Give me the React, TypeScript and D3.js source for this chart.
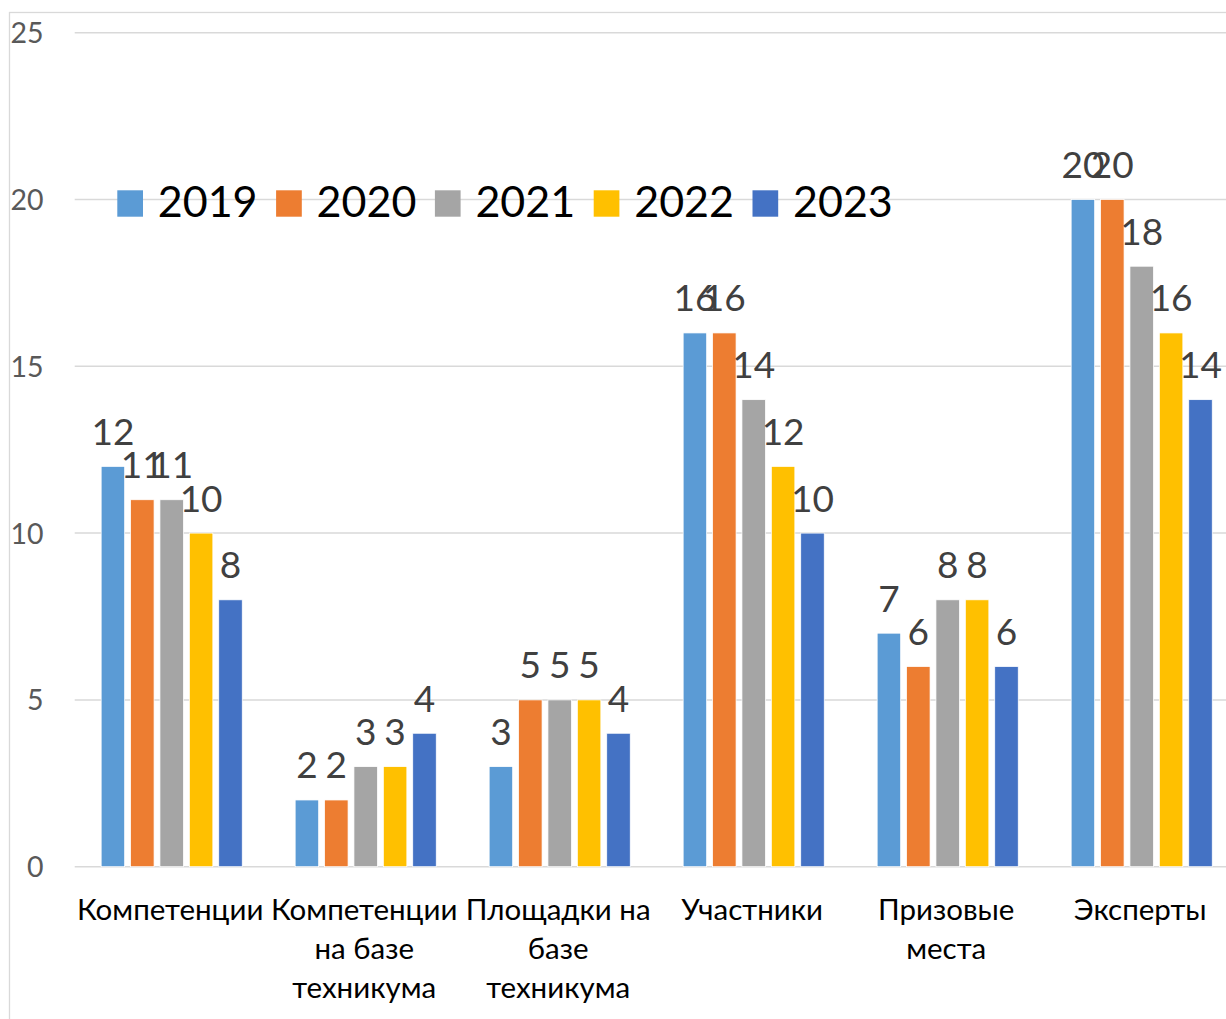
import React from "react";
import * as d3 from "d3";

const categories: string[][] = [
  ["Компетенции"],
  ["Компетенции", "на базе", "техникума"],
  ["Площадки на", "базе", "техникума"],
  ["Участники"],
  ["Призовые", "места"],
  ["Эксперты"],
];
const years = ["2019", "2020", "2021", "2022", "2023"];
const values2019 = [12, 2, 3, 16, 7, 20];
const values2020 = [11, 2, 5, 16, 6, 20];
const values2021 = [11, 3, 5, 14, 8, 18];
const values2022 = [10, 3, 5, 12, 8, 16];
const values2023 = [8, 4, 4, 10, 6, 14];
const series = [values2019, values2020, values2021, values2022, values2023];
const colors = ["#5B9BD5", "#ED7D31", "#A5A5A5", "#FFC000", "#4472C4"];
const yTicks = [0, 5, 10, 15, 20, 25];

const W = 1226;
const H = 1019;
const FONT = "Lato, Carlito, 'Open Sans', sans-serif";

export default function App() {
  const catIdx = categories.map((_, i) => String(i));
  const x0 = d3.scaleBand().domain(catIdx).range([74.7, 1238.7]).paddingInner(0).paddingOuter(0);
  const x1 = d3
    .scaleBand()
    .domain(years)
    .range([0, x0.bandwidth()])
    .paddingInner(0.2)
    .paddingOuter(0.9);
  const y = d3.scaleLinear().domain([0, 25]).range([866.7, 32.7]);

  return (
    <svg
      width={W}
      height={H}
      style={{ position: "absolute", left: 0, top: 0, background: "#fff" }}
      fontFamily={FONT}
    >
      <rect x={0} y={0} width={W} height={H} fill="#fff" />
      {/* chart border */}
      <rect x={9.5} y={12.5} width={W + 50} height={H + 50} fill="none" stroke="#D9D9D9" strokeWidth={1.3} />
      {/* gridlines */}
      {yTicks.map((t) => (
        <line key={"g" + t} x1={74.7} x2={W} y1={y(t)} y2={y(t)} stroke="#D9D9D9" strokeWidth={1.5} />
      ))}
      {/* y tick labels */}
      {yTicks.map((t) => (
        <text key={"t" + t} x={43.5} y={y(t) + 10.5} textAnchor="end" fontSize={28.5} fill="#595959">
          {t}
        </text>
      ))}
      {/* bars */}
      {series.map((vals, si) =>
        vals.map((v, ci) => {
          const bx = (x0(String(ci)) as number) + (x1(years[si]) as number);
          return (
            <rect
              key={`b${si}-${ci}`}
              x={bx}
              y={y(v)}
              width={x1.bandwidth()}
              height={y(0) - y(v)}
              fill={colors[si]}
              stroke="#fff"
              strokeWidth={0.75}
            />
          );
        })
      )}
      {/* data labels */}
      {series.map((vals, si) =>
        vals.map((v, ci) => {
          const bx = (x0(String(ci)) as number) + (x1(years[si]) as number) + x1.bandwidth() / 2;
          return (
            <text
              key={`l${si}-${ci}`}
              x={bx}
              y={y(v) - 21.5}
              textAnchor="middle"
              fontSize={37}
              fill="#404040"
            >
              {v}
            </text>
          );
        })
      )}
      {/* category labels */}
      {categories.map((lines, ci) => {
        const cx = (x0(String(ci)) as number) + x0.bandwidth() / 2 - 1.5;
        return (
          <text key={"c" + ci} textAnchor="middle" fontSize={29.5} fill="#000">
            {lines.map((ln, li) => (
              <tspan key={li} x={cx} y={920 + li * 39}>
                {ln}
              </tspan>
            ))}
          </text>
        );
      })}
      {/* legend */}
      {years.map((yr, i) => {
        const lx = 117.3 + i * 158.8;
        return (
          <g key={"lg" + yr}>
            <rect x={lx} y={190.3} width={25.7} height={26.4} fill={colors[i]} />
            <text x={lx + 40.5} y={216.7} fontSize={43} fill="#000">
              {yr}
            </text>
          </g>
        );
      })}
    </svg>
  );
}
